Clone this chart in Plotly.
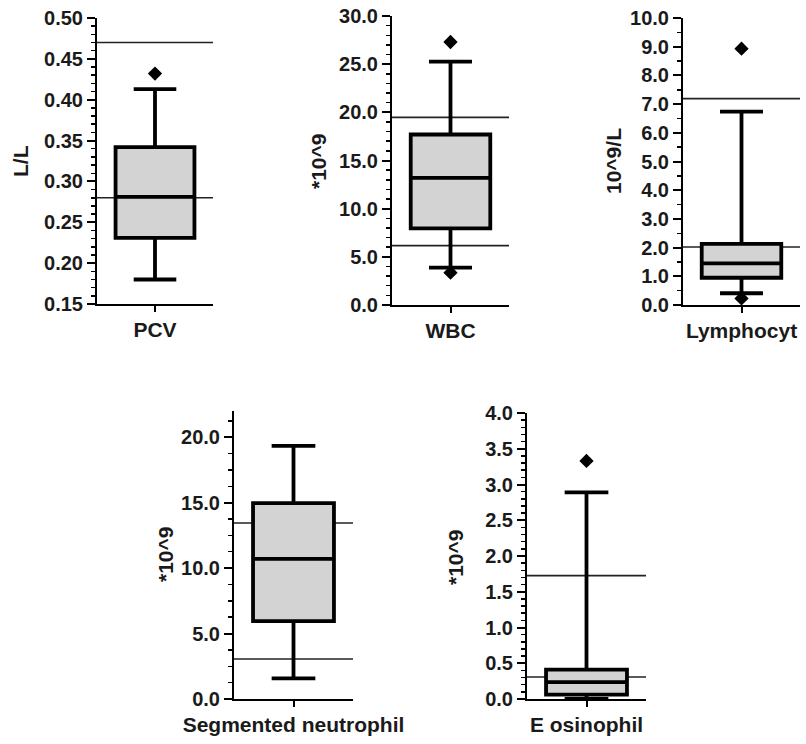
import plotly.graph_objects as go

# ---- data ----
categories = ["PCV", "WBC", "Lymphocyt", "Segmented neutrophil", "E osinophil"]
y_titles = ["L/L", "*10^9", "10^9/L", "*10^9", "*10^9"]
q1_vals = [0.231, 7.96, 0.95, 5.95, 0.06]
median_vals = [0.281, 13.2, 1.45, 10.71, 0.237]
q3_vals = [0.342, 17.7, 2.13, 14.96, 0.41]
lower_vals = [0.180, 3.88, 0.41, 1.58, 0.0]
upper_vals = [0.413, 25.26, 6.74, 19.34, 2.89]
outlier_vals = [[0.432], [27.3, 3.36], [8.93, 0.23], [], [3.33]]
ref_lines = [[0.47, 0.28], [19.48, 6.16], [7.19, 2.02], [13.44, 3.05], [1.726, 0.307]]
y_ranges = [[0.15, 0.50], [0, 30], [0, 10], [0, 22], [0, 4]]
y_dticks = [0.05, 5, 1, 5, 0.5]
y_minor = [0.01, 1, 0.5, 1.25, 0.1]
y_formats = [".2f", ".1f", ".1f", ".1f", ".1f"]

# ---- layout geometry (pixels) ----
W, H = 806, 744
# (x_left, x_right, y_top, y_bottom)
panels = [
    (97, 213, 18, 304),
    (392, 509, 16, 305),
    (683, 800, 18, 305),
    (234, 353, 411, 699),
    (527, 646, 413, 699),
]
title_pos = [(20, 161), (318, 162), (613, 161), (165, 555), (455, 558)]

FONT = "Arial, Liberation Sans, sans-serif"
TXT = "#1a1a1a"

fig = go.Figure()
layout = dict(
    width=W, height=H, margin=dict(l=0, r=0, t=0, b=0, autoexpand=False),
    paper_bgcolor="white", plot_bgcolor="white", showlegend=False,
    font=dict(family=FONT, color=TXT),
    shapes=[], annotations=[],
)

for i, cat in enumerate(categories):
    n = "" if i == 0 else str(i + 1)
    xa, ya = "x" + n, "y" + n
    xl, xr, yt, yb = panels[i]
    fig.add_trace(go.Box(
        x=[cat], q1=[q1_vals[i]], median=[median_vals[i]], q3=[q3_vals[i]],
        lowerfence=[lower_vals[i]], upperfence=[upper_vals[i]],
        fillcolor="#d3d3d3", line=dict(color="black", width=3.8),
        whiskerwidth=0.54, width=0.68, boxpoints=False,
        xaxis=xa, yaxis=ya, hoverinfo="skip",
    ))
    if outlier_vals[i]:
        fig.add_trace(go.Scatter(
            x=[cat] * len(outlier_vals[i]), y=outlier_vals[i], mode="markers",
            marker=dict(symbol="diamond", size=11, color="black"),
            xaxis=xa, yaxis=ya, hoverinfo="skip", cliponaxis=False,
        ))
    layout["xaxis" + n] = dict(
        domain=[xl / W, xr / W], anchor=ya, type="category", range=[-0.5, 0.5],
        showline=True, linecolor="black", linewidth=2, showgrid=False, zeroline=False,
        ticks="outside", ticklen=6, tickwidth=2, tickcolor="black",
        tickfont=dict(size=21, family=FONT, color=TXT, weight="bold"),
        fixedrange=True, automargin=False,
    )
    layout["yaxis" + n] = dict(
        domain=[1 - yb / H, 1 - yt / H], anchor=xa, range=y_ranges[i],
        tickmode="linear", tick0=y_ranges[i][0], dtick=y_dticks[i], tickformat=y_formats[i],
        showline=True, linecolor="black", linewidth=2, showgrid=False, zeroline=False,
        ticks="outside", ticklen=8, tickwidth=2, tickcolor="black",
        minor=dict(tickmode="linear", dtick=y_minor[i], tick0=y_ranges[i][0], ticks="outside",
                   ticklen=4, tickwidth=1.5, tickcolor="black", showgrid=False),
        tickfont=dict(size=20, family=FONT, color=TXT, weight="bold"),
        fixedrange=True, automargin=False,
    )
    for v in ref_lines[i]:
        layout["shapes"].append(dict(
            type="line", xref=xa + " domain", yref=ya, x0=0, x1=1, y0=v, y1=v,
            line=dict(color="#222222", width=1.6), layer="below",
        ))
    tx, ty = title_pos[i]
    layout["annotations"].append(dict(
        text=y_titles[i], xref="paper", yref="paper", x=tx / W, y=1 - ty / H,
        textangle=-90, showarrow=False, xanchor="center", yanchor="middle",
        font=dict(size=21, family=FONT, color=TXT, weight="bold"),
    ))

fig.update_layout(**layout)
fig.write_html(
    "out.html",
    config={"displayModeBar": False, "staticPlot": True},
    post_script="document.body.style.margin='0px';document.body.style.overflow='hidden';",
)
